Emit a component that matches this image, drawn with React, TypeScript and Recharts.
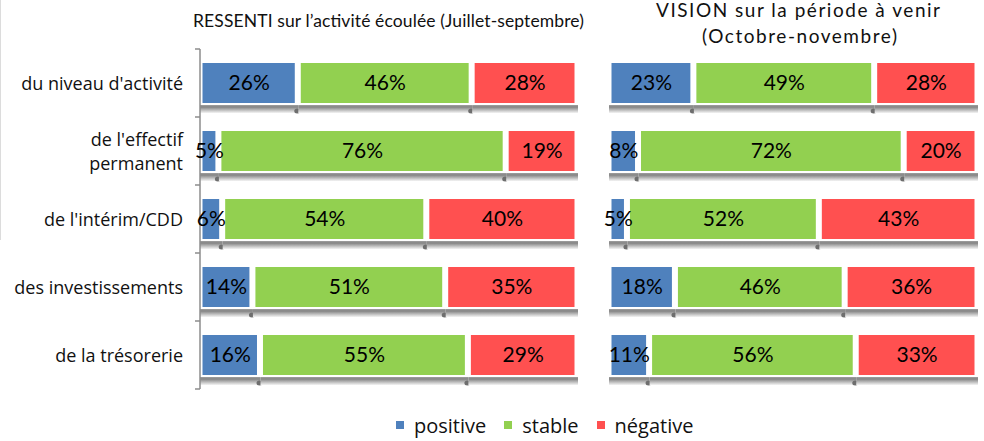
import React from "react";
import { BarChart, Bar, XAxis, YAxis, LabelList } from "recharts";

const categories = [
  "du niveau d'activité",
  "de l'effectif permanent",
  "de l'intérim/CDD",
  "des investissements",
  "de la trésorerie",
];
const ressentiPositive = [26, 5, 6, 14, 16];
const ressentiStable = [46, 76, 54, 51, 55];
const ressentiNegative = [28, 19, 40, 35, 29];
const visionPositive = [23, 8, 5, 18, 11];
const visionStable = [49, 72, 52, 46, 56];
const visionNegative = [28, 20, 43, 36, 33];

const seriesNames = ["positive", "stable", "négative"];
const seriesColors = ["#4F81BD", "#92D050", "#FF5050"];
const leftTitle = "RESSENTI sur l’activité écoulée (Juillet-septembre)";
const rightTitle = ["VISION sur la période à venir", "(Octobre-novembre)"];

const ressentiData = categories.map((c, i) => ({
  name: c,
  positive: ressentiPositive[i],
  stable: ressentiStable[i],
  negative: ressentiNegative[i],
}));
const visionData = categories.map((c, i) => ({
  name: c,
  positive: visionPositive[i],
  stable: visionStable[i],
  negative: visionNegative[i],
}));

const H = 441;
const TOP = 49;
const BOTTOM = 52;
const BAND_HALF = (H - TOP - BOTTOM) / categories.length / 2;
const VALUE_FONT = "Lato, 'DejaVu Sans', sans-serif";
const TEXT_FONT = "'Open Sans', 'Noto Sans', sans-serif";

const SegmentShape = (props: any) => {
  const { x, y, width, height, fill, notch } = props;
  if (width == null || width <= 0) return null;
  return (
    <g>
      <rect x={x} y={y + height + 2} width={width} height={8} fill="url(#shadowGrad)" />
      {notch ? (
        <ellipse cx={x + width - 1} cy={y + height + 8} rx={3} ry={2.5} fill="#6e6e6e" />
      ) : null}
      <rect x={x + 2.5} y={y} width={Math.max(width - 6, 1)} height={height} fill={fill} />
    </g>
  );
};

const CategoryTick = (props: any) => {
  const { x, y, payload, index } = props;
  const text: string = payload.value;
  let lines = [text];
  if (text.length > 20) {
    const cut = text.lastIndexOf(" ");
    lines = [text.slice(0, cut), text.slice(cut + 1)];
  }
  const lineH = 24;
  const y0 = y - ((lines.length - 1) * lineH) / 2;
  return (
    <g>
      <line x1={x + 12} x2={x + 17} y1={y - BAND_HALF} y2={y - BAND_HALF} stroke="#8c8c8c" strokeWidth={1.5} />
      {index === categories.length - 1 ? (
        <line x1={x + 12} x2={x + 17} y1={y + BAND_HALF} y2={y + BAND_HALF} stroke="#8c8c8c" strokeWidth={1.5} />
      ) : null}
      <text
        x={x}
        y={y0}
        textAnchor="end"
        dominantBaseline="central"
        fontFamily={TEXT_FONT}
        fontSize={18}
        fill="#111"
      >
        {lines.map((l, i) => (
          <tspan key={i} x={x} dy={i === 0 ? 0 : lineH}>
            {l}
          </tspan>
        ))}
      </text>
    </g>
  );
};

const pct = (v: any) => `${v}%`;

const renderBars = () =>
  ["positive", "stable", "negative"].map((k, i) => (
    <Bar
      key={k}
      dataKey={k}
      stackId="a"
      fill={seriesColors[i]}
      barSize={40}
      isAnimationActive={false}
      shape={(p: any) => <SegmentShape {...p} notch={i < 2} />}
    >
      <LabelList
        dataKey={k}
        position="center"
        formatter={pct}
        fill="#000"
        fontSize={21}
        fontFamily={VALUE_FONT}
      />
    </Bar>
  ));

export default function App() {
  return (
    <div
      style={{
        position: "absolute",
        left: 0,
        top: 0,
        width: 984,
        height: 441,
        background: "#fff",
        overflow: "hidden",
      }}
    >
      <svg width={0} height={0} style={{ position: "absolute" }}>
        <defs>
          <linearGradient id="shadowGrad" x1="0" y1="0" x2="0" y2="1">
            <stop offset="0%" stopColor="#a0a0a0" />
            <stop offset="25%" stopColor="#848484" />
            <stop offset="60%" stopColor="#b8b8b8" />
            <stop offset="100%" stopColor="#f4f4f4" />
          </linearGradient>
        </defs>
      </svg>
      <div
        style={{
          position: "absolute",
          left: 0,
          top: 0,
          width: 1,
          height: 240,
          background: "#dcdcdc",
        }}
      />
      <div style={{ position: "absolute", left: 0, top: 0 }}>
        <BarChart
          width={590}
          height={H}
          data={ressentiData}
          layout="vertical"
          margin={{ top: TOP, bottom: BOTTOM, left: 0, right: 12 }}
        >
          <XAxis type="number" domain={[0, 100]} hide />
          <YAxis
            type="category"
            dataKey="name"
            width={200}
            axisLine={{ stroke: "#8c8c8c", strokeWidth: 1.5 }}
            tickLine={false}
            tickSize={0}
            tickMargin={17}
            tick={<CategoryTick />}
            interval={0}
          />
          {renderBars()}
        </BarChart>
      </div>
      <div style={{ position: "absolute", left: 590, top: 0 }}>
        <BarChart
          width={394}
          height={H}
          data={visionData}
          layout="vertical"
          margin={{ top: TOP, bottom: BOTTOM, left: 19, right: 6 }}
        >
          <XAxis type="number" domain={[0, 100]} hide />
          <YAxis type="category" dataKey="name" hide />
          {renderBars()}
        </BarChart>
      </div>
      <svg
        width={984}
        height={60}
        style={{ position: "absolute", left: 0, top: 0, pointerEvents: "none" }}
      >
        <text
          x={193}
          y={27}
          textLength={391}
          lengthAdjust="spacing"
          fontFamily={VALUE_FONT}
          fontSize={17.5}
          fill="#111"
        >
          {leftTitle}
        </text>
        <text
          x={656}
          y={17}
          textLength={284}
          lengthAdjust="spacing"
          fontFamily={VALUE_FONT}
          fontSize={19}
          fill="#111"
        >
          {rightTitle[0]}
        </text>
        <text
          x={702}
          y={43}
          textLength={195}
          lengthAdjust="spacing"
          fontFamily={VALUE_FONT}
          fontSize={19}
          fill="#111"
        >
          {rightTitle[1]}
        </text>
      </svg>
      <div
        style={{
          position: "absolute",
          left: 396,
          top: 410,
          height: 30,
          display: "flex",
          alignItems: "center",
          fontFamily: TEXT_FONT,
          fontSize: 20,
          color: "#111",
        }}
      >
        {seriesNames.map((n, i) => (
          <div key={n} style={{ display: "flex", alignItems: "center", marginRight: 18 }}>
            <span
              style={{
                display: "inline-block",
                width: 8,
                height: 8,
                background: seriesColors[i],
                marginRight: 10,
              }}
            />
            <span>{n}</span>
          </div>
        ))}
      </div>
    </div>
  );
}
